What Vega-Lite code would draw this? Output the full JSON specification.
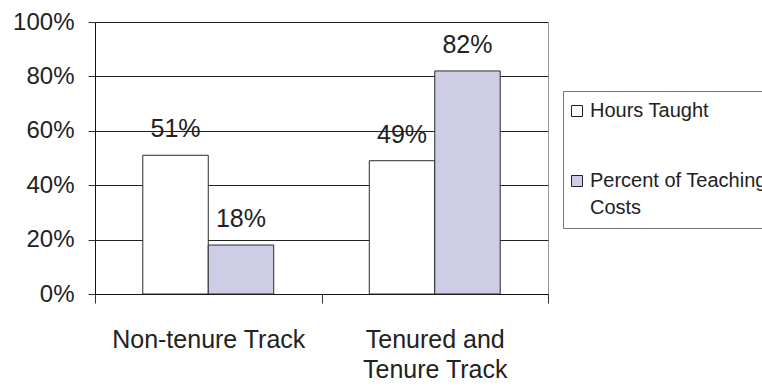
{
  "$schema": "https://vega.github.io/schema/vega-lite/v6.json",
  "width": 453,
  "height": 272,
  "autosize": {"type": "none"},
  "padding": {"left": 95, "top": 22, "right": 214, "bottom": 96},
  "background": "white",
  "config": {
    "font": "Liberation Sans Narrow, Arial Narrow, Liberation Sans, Arial",
    "view": {"stroke": "#999999", "strokeWidth": 1},
    "style": {"guide-label": {"lineHeight": 27}}
  },
  "data": {
    "values": [
      {"track": "Non-tenure Track", "series": "Hours Taught", "share": 0.51},
      {"track": "Non-tenure Track", "series": "Percent of Teaching Costs", "share": 0.18},
      {"track": "Tenured and Tenure Track", "series": "Hours Taught", "share": 0.49},
      {"track": "Tenured and Tenure Track", "series": "Percent of Teaching Costs", "share": 0.82}
    ]
  },
  "encoding": {
    "x": {
      "field": "track",
      "type": "nominal",
      "sort": null,
      "title": null,
      "scale": {"paddingInner": 0, "paddingOuter": 0},
      "axis": {
        "labelAngle": 0,
        "labelFontSize": 25,
        "labelColor": "#222222",
        "labelPadding": 24,
        "labelLineHeight": 30,
        "labelLimit": 400,
        "labelExpr": "datum.value == 'Tenured and Tenure Track' ? ['Tenured and', 'Tenure Track'] : datum.value",
        "tickBand": "extent",
        "tickSize": 9,
        "tickColor": "#333333",
        "domainColor": "#111111",
        "grid": false
      }
    },
    "xOffset": {
      "field": "series",
      "type": "nominal",
      "sort": null,
      "scale": {"paddingInner": 0, "paddingOuter": 0.73}
    },
    "y": {
      "field": "share",
      "type": "quantitative",
      "title": null,
      "scale": {"domain": [0, 1], "nice": false},
      "axis": {
        "values": [0, 0.2, 0.4, 0.6, 0.8, 1],
        "format": ".0%",
        "labelFontSize": 24,
        "labelColor": "#222222",
        "labelPadding": 14,
        "tickSize": 7,
        "tickColor": "#333333",
        "domainColor": "#111111",
        "gridColor": "#222222",
        "gridWidth": 1
      }
    }
  },
  "layer": [
    {
      "mark": {"type": "bar", "stroke": "#2a2a2a", "strokeWidth": 1},
      "encoding": {
        "color": {
          "field": "series",
          "type": "nominal",
          "sort": null,
          "scale": {"range": ["#ffffff", "#cdcde6"]},
          "legend": {
            "title": null,
            "orient": "none",
            "legendX": 468,
            "legendY": 69,
            "symbolType": "square",
            "symbolSize": 121,
            "symbolOffset": -6,
            "symbolStrokeColor": "#222222",
            "symbolStrokeWidth": 1,
            "labelFontSize": 20,
            "labelColor": "#222222",
            "labelLimit": 400,
            "labelOffset": 3,
            "labelExpr": "datum.value == 'Percent of Teaching Costs' ? ['Percent of Teaching', 'Costs'] : datum.value",
            "rowPadding": 50,
            "padding": 10,
            "strokeColor": "#777777",
            "fillColor": "white"
          }
        }
      }
    },
    {
      "mark": {"type": "text", "baseline": "alphabetic", "dy": -18, "fontSize": 25, "color": "#222222"},
      "encoding": {
        "text": {"field": "share", "type": "quantitative", "format": ".0%"}
      }
    }
  ]
}
